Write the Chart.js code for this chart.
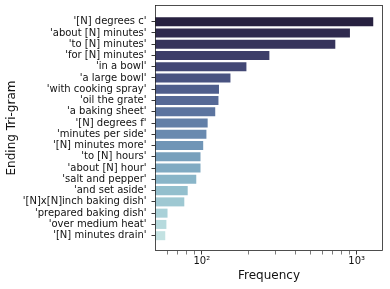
<!DOCTYPE html>
<html>
<head>
<meta charset="utf-8">
<script src="https://cdn.jsdelivr.net/npm/chart.js@4.4.1/dist/chart.umd.min.js"></script>
<style>
  html, body { margin: 0; padding: 0; background: #fff; }
  #wrap { width: 390px; height: 289px; }
</style>
</head>
<body>
<div id="wrap"><canvas id="grafico" width="390" height="289"></canvas></div>
<script>
// ===== dados =====
const trigramas = [
    "'[N] degrees c'", "'about [N] minutes'", "'to [N] minutes'", "'for [N] minutes'",
    "'in a bowl'", "'a large bowl'", "'with cooking spray'", "'oil the grate'",
    "'a baking sheet'", "'[N] degrees f'", "'minutes per side'", "'[N] minutes more'",
    "'to [N] hours'", "'about [N] hour'", "'salt and pepper'", "'and set aside'",
    "'[N]x[N]inch baking dish'", "'prepared baking dish'", "'over medium heat'", "'[N] minutes drain'"
];
const frequencias = [1280, 905, 728, 273, 194, 153, 129, 128, 122, 109, 107, 102, 98, 98, 92, 81, 77, 60, 59, 58];
const ticksX = [60, 70, 80, 90, 100, 200, 300, 400, 500, 600, 700, 800, 900, 1000];
const rotulosX = { 100: '10²', 1000: '10³' };

// paleta cubehelix (start=.2, rot=-.3), do escuro pro claro
function cubehelix(n, start, rot, hue, light, dark) {
    const cores = [];
    for (let i = 0; i < n; i++) {
        const x = dark + (light - dark) * i / (n - 1);
        const a = hue * x * (1 - x) / 2;
        const phi = 2 * Math.PI * (start / 3 + rot * x);
        const c = Math.cos(phi), s = Math.sin(phi);
        const r = x + a * (-0.14861 * c + 1.78277 * s);
        const g = x + a * (-0.29227 * c - 0.90649 * s);
        const b = x + a * (1.97294 * c);
        const f = v => Math.round(Math.min(1, Math.max(0, v)) * 255);
        cores.push(`rgb(${f(r)},${f(g)},${f(b)})`);
    }
    return cores;
}
const cores = cubehelix(trigramas.length, 0.2, -0.3, 0.8, 0.85, 0.15);

// moldura em volta da área do gráfico
const moldura = {
    id: 'moldura',
    afterDraw(chart) {
        const { ctx, chartArea: a } = chart;
        ctx.save();
        ctx.strokeStyle = '#222';
        ctx.lineWidth = 0.8;
        ctx.strokeRect(Math.round(a.left) + 0.5, Math.round(a.top) + 0.5,
            Math.round(a.right - a.left) - 1, Math.round(a.bottom - a.top) - 1);
        ctx.restore();
    }
};

Chart.defaults.font.family = "'DejaVu Sans', sans-serif";
Chart.defaults.color = '#111';

const ctx = document.getElementById('grafico').getContext('2d');
new Chart(ctx, {
    type: 'bar',
    data: {
        datasets: [{
            data: frequencias.map((v, i) => ({ x: v, y: i })),
            backgroundColor: cores,
            borderWidth: 0,
            barPercentage: 1,
            categoryPercentage: 0.8
        }]
    },
    options: {
        indexAxis: 'y',
        responsive: false,
        animation: false,
        devicePixelRatio: 1,
        layout: { padding: { top: 5, right: 7, bottom: 0, left: 0 } },
        plugins: { legend: { display: false }, tooltip: { enabled: false } },
        scales: {
            x: {
                type: 'logarithmic',
                min: 49.8,
                max: 1480,
                afterBuildTicks: s => { s.ticks = ticksX.map(v => ({ value: v, major: !!rotulosX[v] })); },
                afterFit: s => { s.height = 38; s.paddingLeft = 0; s.paddingRight = 0; },
                ticks: {
                    autoSkip: false,
                    maxRotation: 0,
                    padding: 1,
                    font: { size: 10 },
                    callback: v => rotulosX[v] || ''
                },
                grid: {
                    drawOnChartArea: false,
                    drawTicks: true,
                    tickLength: 3.5,
                    tickColor: '#222',
                    tickWidth: c => (rotulosX[c.tick && c.tick.value] ? 0.9 : 0.6)
                },
                border: { display: false },
                title: {
                    display: true,
                    text: 'Frequency',
                    font: { size: 12 },
                    padding: { top: 0, bottom: 5.5 }
                }
            },
            y: {
                type: 'linear',
                reverse: true,
                offset: false,
                min: -1.48,
                max: 20.36,
                afterBuildTicks: s => { s.ticks = trigramas.map((_, i) => ({ value: i })); },
                afterFit: s => { s.width = 155; s.paddingTop = 0; s.paddingBottom = 0; },
                ticks: {
                    autoSkip: false,
                    padding: 5,
                    font: { size: 10 },
                    callback: v => trigramas[v]
                },
                grid: {
                    offset: false,
                    drawOnChartArea: false,
                    drawTicks: true,
                    tickLength: 3.5,
                    tickColor: '#222',
                    tickWidth: 0.9
                },
                border: { display: false },
                title: {
                    display: true,
                    text: 'Ending Tri-gram',
                    font: { size: 12 },
                    padding: { top: 5, bottom: 0 }
                }
            }
        }
    },
    plugins: [moldura]
});
</script>
</body>
</html>
